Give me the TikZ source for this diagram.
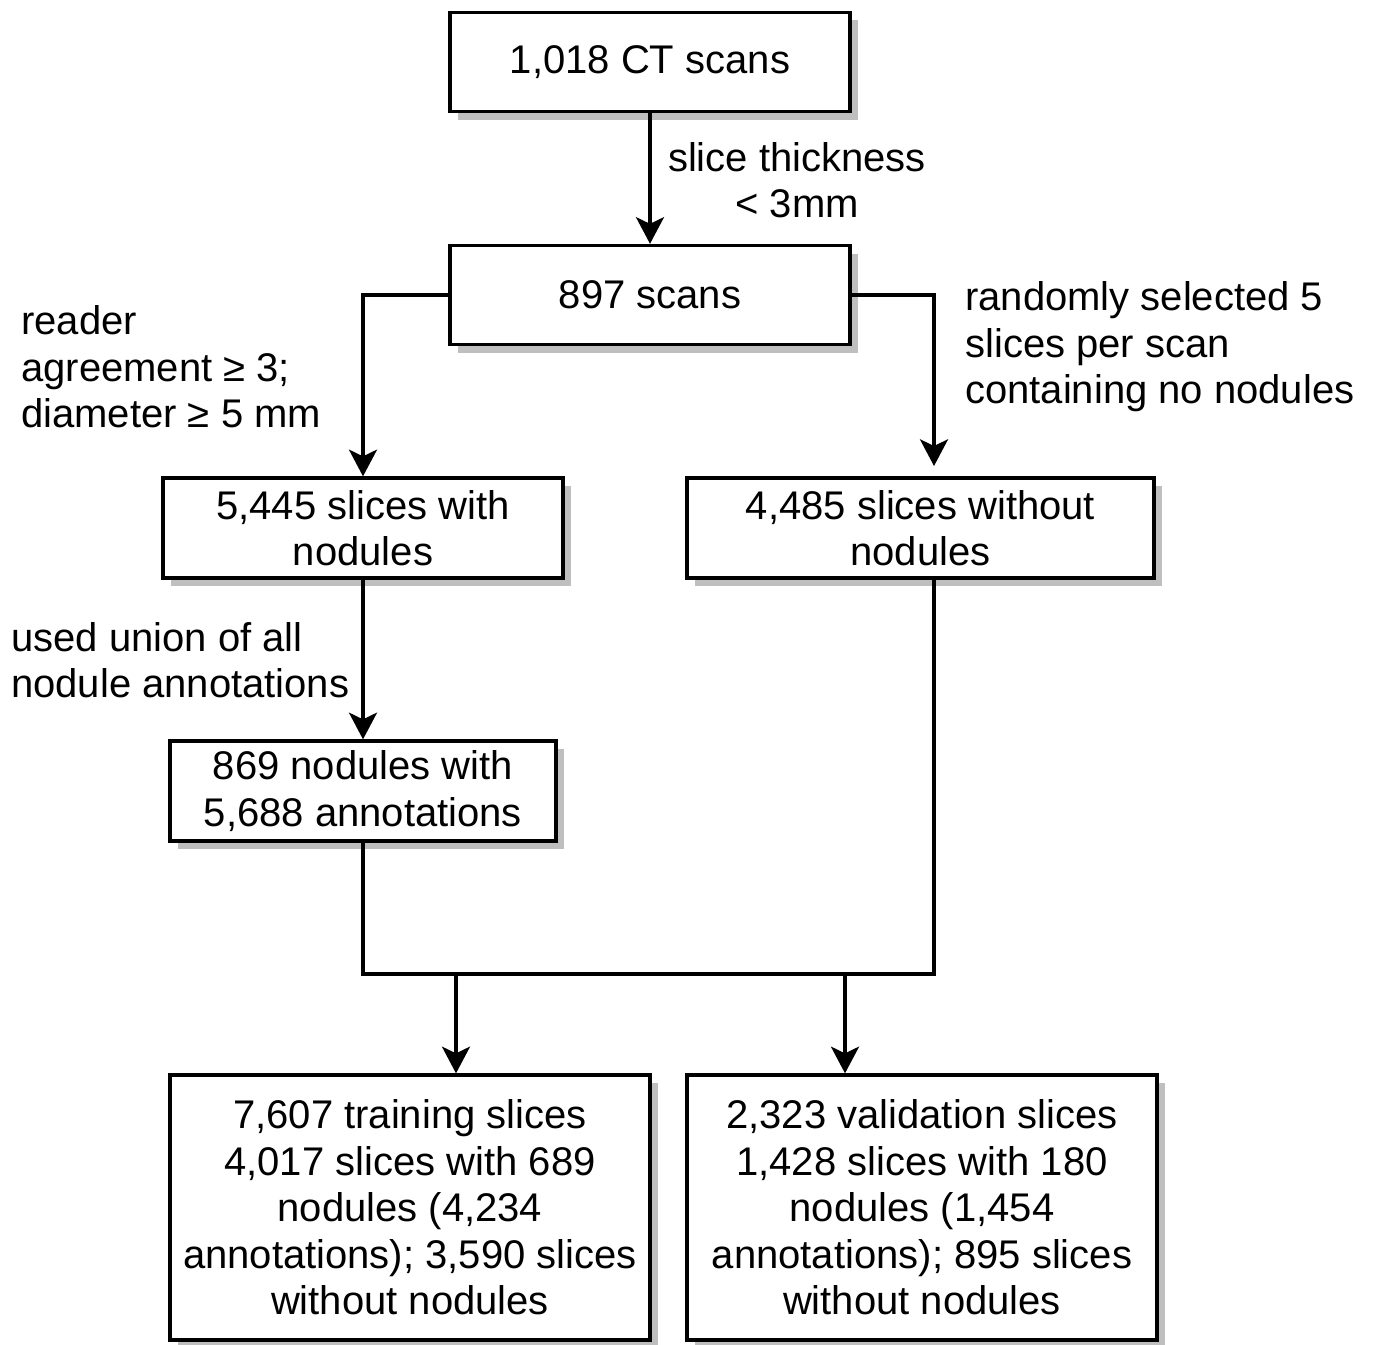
\documentclass[tikz,border=0pt]{standalone}
\usepackage{fontspec}
\setmainfont{Liberation Sans}
\usetikzlibrary{arrows.meta,shadows,calc}
\tikzset{
  box/.style={draw=black, line width=2.5pt, fill=white, align=center, inner sep=0pt,
    font=\fontsize{30}{34.9}\selectfont,
    drop shadow={shadow xshift=6pt, shadow yshift=-6pt, fill=black!25, opacity=1}},
  lbl/.style={inner sep=0pt, font=\fontsize{30}{34.9}\selectfont},
  conn/.style={line width=2.5pt, draw=black},
  arr/.style={conn, -{Stealth[length=20pt, width=21pt, inset=5pt]}}
}
\begin{document}
\begin{tikzpicture}[x=0.75pt, y=-0.75pt]
\useasboundingbox (0,0) rectangle (1374,1345);
% boxes
\node[box, minimum width=300pt, minimum height=74.25pt] (b1) at (650,62) {1,018 CT scans};
\node[box, minimum width=300pt, minimum height=74.25pt] (b2) at (650,295) {897 scans};
\node[box, minimum width=300pt, minimum height=75pt] (b3) at (363,528) {5,445 slices with\\nodules};
\node[box, minimum width=350.25pt, minimum height=75pt] (b4) at (920.5,528) {4,485 slices without\\nodules};
\node[box, minimum width=289.5pt, minimum height=75pt] (b5) at (363,791) {869 nodules with\\5,688 annotations};
\node[box, minimum width=360pt, minimum height=198.75pt] (b6) at (410,1207.5) {7,607 training slices\\4,017 slices with 689\\nodules (4,234\\annotations); 3,590 slices\\without nodules};
\node[box, minimum width=352.5pt, minimum height=198.75pt] (b7) at (922,1207.5) {2,323 validation slices\\1,428 slices with 180\\nodules (1,454\\annotations); 895 slices\\without nodules};
% labels
\node[lbl, align=center] (l1) at (797,180) {slice thickness\\< 3mm};
\node[lbl, align=left, anchor=west] (l2) at (21,367) {reader\\agreement ≥ 3;\\diameter ≥ 5 mm};
\node[lbl, align=left, anchor=west] (l3) at (965,347) {randomly selected 5\\slices per scan\\containing no nodules};
\node[lbl, align=left, anchor=west] (l4) at (11,660) {used union of all\\nodule annotations};
% junction coordinates
\coordinate (jl) at (363,974);
\coordinate (jr) at (934,974);
\coordinate (ja) at (456,974);
\coordinate (jb) at (845,974);
\coordinate (rt) at (934,466);
% connectors
\draw[arr] (b1.south) -- (b2.north);
\draw[arr] (b2.west) -| (b3.north);
\draw[arr] (b2.east) -| (rt);
\draw[arr] (b3.south) -- (b5.north);
\draw[conn] (b5.south) -- (jl) -- (jr) -- (jr |- b4.south);
\draw[arr] (ja) -- (ja |- b6.north);
\draw[arr] (jb) -- (jb |- b7.north);
\end{tikzpicture}
\end{document}
